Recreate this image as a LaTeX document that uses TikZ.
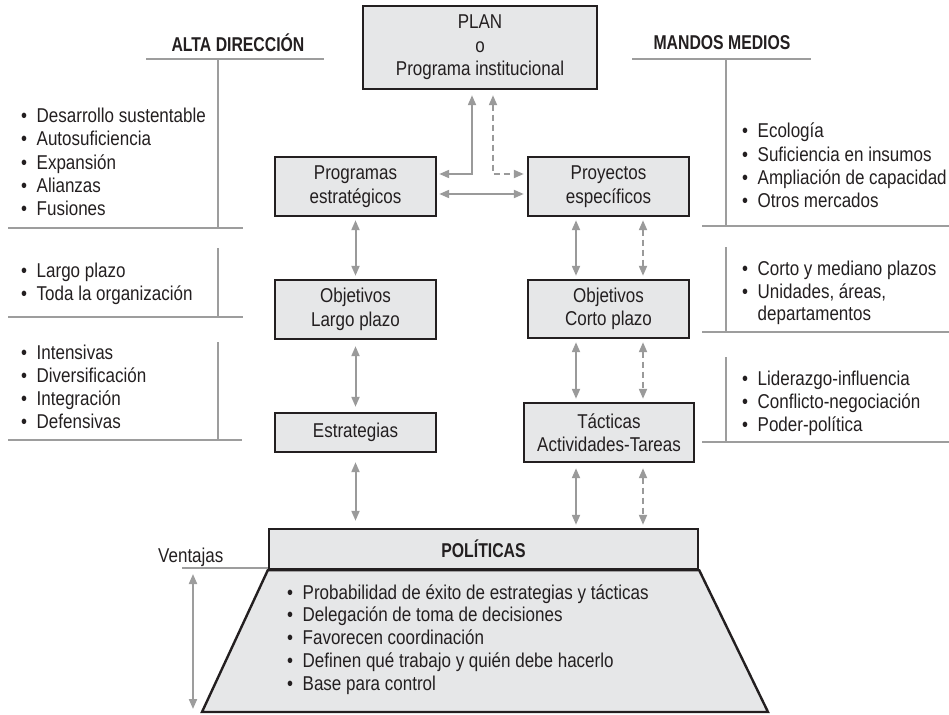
\documentclass[tikz,border=0pt]{standalone}
\usepackage{fontspec}
\setmainfont{Liberation Sans}[FakeStretch=0.85,BoldFeatures={FakeStretch=0.79}]
\usetikzlibrary{arrows.meta}
\definecolor{boxfill}{HTML}{E6E7E8}
\definecolor{ink}{HTML}{231F20}
\definecolor{rulegray}{HTML}{9D9D9D}
\definecolor{arrgray}{HTML}{9A9A9A}
\newcommand\fs{\fontsize{20pt}{23.5pt}\selectfont}
\newcommand\bl{\makebox[15.5pt][l]{\textbullet}}
\begin{document}
\begin{tikzpicture}[x=1pt,y=-1pt,
  box/.style={draw=ink,line width=2.4pt,fill=boxfill,inner sep=0pt,align=center,font=\fs,text=ink},
  link/.style={draw=arrgray,line width=2pt,{Triangle[length=10pt,width=8pt]}-{Triangle[length=10pt,width=8pt]},shorten <=3pt,shorten >=3pt},
  dlink/.style={link,dash pattern=on 6pt off 4pt},
  rl/.style={draw=rulegray,line width=2pt},
  item/.style={anchor=base west,inner sep=0pt,font=\fs,text=ink},
  head/.style={inner sep=0pt,font=\fs\bfseries,text=ink}]
\useasboundingbox (0,0) rectangle (949,714);

% boxes
\node[box,minimum width=234pt,minimum height=83pt] (plan) at (480,47.5) {PLAN\\o\\Programa institucional};
\node[box,minimum width=161pt,minimum height=59pt] (prog) at (355.5,186.5) {Programas\\estratégicos};
\node[box,minimum width=161pt,minimum height=59pt] (proy) at (608.5,186.5) {Proyectos\\específicos};
\node[box,minimum width=161pt,minimum height=59pt] (objl) at (355.5,309.5) {Objetivos\\Largo plazo};
\node[box,minimum width=161pt,minimum height=58pt] (objc) at (608.5,309) {Objetivos\\Corto plazo};
\node[box,minimum width=161pt,minimum height=39pt] (estr) at (355.5,432.5) {Estrategias};
\node[box,minimum width=170pt,minimum height=59pt] (tact) at (609,432.5) {Tácticas\\Actividades-Tareas};

% trapezoid and POLITICAS
\node[box,minimum width=429pt,minimum height=40pt,font=\fs\bfseries] (pol) at (483.5,549) {POLÍTICAS};
\coordinate (trR) at (768,712);
\coordinate (trL) at (202,712);
\draw[draw=ink,line width=2.4pt,fill=boxfill,line join=miter] (pol.south west) -- (pol.south east) -- (trR) -- (trL) -- cycle;
\foreach \t [count=\i from 0] in {Probabilidad de éxito de estrategias y tácticas,
  Delegación de toma de decisiones, Favorecen coordinación,
  Definen qué trabajo y quién debe hacerlo, Base para control}
  \node[item] (p\i) at (287,599+22.8*\i) {\bl\t};

% connectors
\draw[link,shorten <=5pt,shorten >=2pt] ([xshift=-8pt]plan.south) |- ([yshift=12.5pt]prog.east);
\draw[dlink,shorten <=5pt,shorten >=3pt] ([xshift=13pt]plan.south) |- ([yshift=12.5pt]proy.west);
\draw[link,shorten <=2pt,shorten >=3pt] ([yshift=-7.5pt]prog.east) -- ([yshift=-7.5pt]proy.west);
\draw[link] (prog.south) -- (objl.north);
\draw[link] ([xshift=-32.5pt]proy.south) -- ([xshift=-32.5pt]objc.north);
\draw[dlink] ([xshift=34.5pt]proy.south) -- ([xshift=34.5pt]objc.north);
\draw[link,shorten <=6pt,shorten >=5pt] (objl.south) -- (estr.north);
\draw[link] ([xshift=-32.5pt]objc.south) -- ([xshift=-33pt]tact.north);
\draw[dlink] ([xshift=34.5pt]objc.south) -- ([xshift=34pt]tact.north);
\draw[link,shorten <=9pt,shorten >=7pt] (estr.south) -- (estr.south |- pol.north);
\draw[link,shorten <=5pt,shorten >=3pt] ([xshift=-33pt]tact.south) -- ([xshift=-33pt]tact.south |- pol.north);
\draw[dlink,shorten <=5pt,shorten >=3pt] ([xshift=34pt]tact.south) -- ([xshift=34pt]tact.south |- pol.north);

% left column
\node[head] (alta) at (238,43) {ALTA DIRECCIÓN};
\draw[rl] (146,59) -- (324,59);
\draw[rl] (218,59) -- (218,228);
\draw[rl] (8,228) -- (243,228);
\draw[rl] (218,248) -- (218,317);
\draw[rl] (8,317) -- (243,317);
\draw[rl] (218,342) -- (218,440);
\draw[rl] (8,440) -- (242,440);
\foreach \t [count=\i from 0] in {Desarrollo sustentable, Autosuficiencia, Expansión, Alianzas, Fusiones}
  \node[item] (a\i) at (21,123+23*\i) {\bl\t};
\foreach \t [count=\i from 0] in {Largo plazo, Toda la organización}
  \node[item] (b\i) at (21,277+23*\i) {\bl\t};
\foreach \t [count=\i from 0] in {Intensivas, Diversificación, Integración, Defensivas}
  \node[item] (c\i) at (21,359+23*\i) {\bl\t};

% right column
\node[head] (mandos) at (722,43) {MANDOS MEDIOS};
\draw[rl] (632,59) -- (811,59);
\draw[rl] (726,59) -- (726,226);
\draw[rl] (702,226) -- (949,226);
\draw[rl] (726,247) -- (726,332);
\draw[rl] (702,332) -- (949,332);
\draw[rl] (726,357) -- (726,442);
\draw[rl] (702,442) -- (949,442);
\foreach \t [count=\i from 0] in {Ecología, Suficiencia en insumos, Ampliación de capacidad, Otros mercados}
  \node[item] (d\i) at (742,138+23*\i) {\bl\t};
\node[item] (e0) at (742,275) {\bl Corto y mediano plazos};
\node[item] (e1) at (742,298) {\bl Unidades, áreas,};
\node[item] (e2) at (757.5,320) {departamentos};
\foreach \t [count=\i from 0] in {Liderazgo-influencia, Conflicto-negociación, Poder-política}
  \node[item] (f\i) at (742,385+23*\i) {\bl\t};

% Ventajas
\node[item] (vent) at (158,562) {Ventajas};
\coordinate (vl) at (182,568);
\draw[rl] (vl) -- (vl -| pol.west);
\coordinate (vtop) at (193,569);
\coordinate (vbot) at (193,712);
\draw[link,draw=rulegray,shorten <=5pt,shorten >=3pt] (vtop) -- (vbot);
\end{tikzpicture}
\end{document}
